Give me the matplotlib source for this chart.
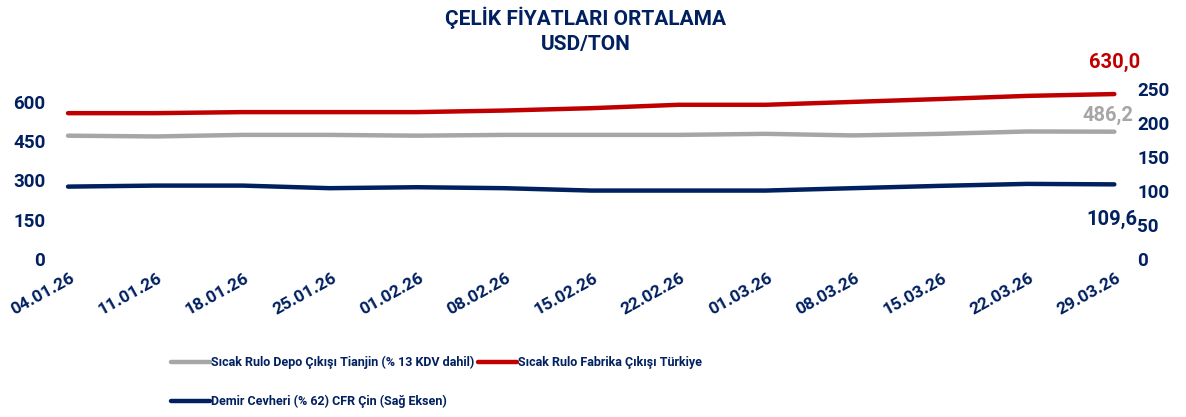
import matplotlib.pyplot as plt
import matplotlib.transforms as mtransforms

# Data
dates = ["04.01.26", "11.01.26", "18.01.26", "25.01.26", "01.02.26", "08.02.26", "15.02.26",
         "22.02.26", "01.03.26", "08.03.26", "15.03.26", "22.03.26", "29.03.26"]
tianjin = [471, 468, 474, 474, 471, 474, 474, 474, 478, 472, 478, 487, 486.2]
turkiye = [557, 557, 561, 561, 561, 567, 576, 589, 589, 600, 611, 623, 630.0]
demir = [106.3, 107.8, 107.8, 104, 105.4, 104, 100.5, 100.5, 100.5, 104, 107.4, 110.3, 109.6]

navy = "#002060"
red = "#C00000"
gray = "#A6A6A6"
font = ["Roboto", "DejaVu Sans"]
plt.rcParams["font.family"] = font
plt.rcParams["font.weight"] = "bold"

fig = plt.figure(figsize=(11.86, 4.17), dpi=100)
ax = fig.add_axes([0.0353, 0.379, 0.9153, 0.408])
ax2 = ax.twinx()

x = range(len(dates))
l1, = ax.plot(x, tianjin, color=gray, lw=3.2, solid_capstyle="round",
              label="Sıcak Rulo Depo Çıkışı Tianjin (% 13 KDV dahil)")
l2, = ax.plot(x, turkiye, color=red, lw=3.2, solid_capstyle="round",
              label="Sıcak Rulo Fabrika Çıkışı Türkiye")
l3, = ax2.plot(x, demir, color=navy, lw=3.2, solid_capstyle="round",
               label="Demir Cevheri (% 62) CFR Çin (Sağ Eksen)")

ax.set_ylim(0, 650)
ax.set_yticks([0, 150, 300, 450, 600])
ax2.set_ylim(0, 250)
ax2.set_yticks([0, 50, 100, 150, 200, 250])
ax.set_xlim(-0.3, 12.15)

for a in (ax, ax2):
    for s in a.spines.values():
        s.set_visible(False)
    a.tick_params(length=0, labelsize=13.5, labelcolor=navy)
ax.tick_params(axis="y", pad=-2.5)
ax2.tick_params(axis="y", pad=7)

ax.set_xticks(list(x))
ax.set_xticklabels(dates, rotation=29, ha="right", rotation_mode="anchor",
                   fontsize=12.5, color=navy)
ax.tick_params(axis="x", pad=8)
shift = mtransforms.ScaledTranslation(2 / 100, 0, fig.dpi_scale_trans)
for t in ax.get_xticklabels():
    t.set_transform(t.get_transform() + shift)

# end-of-series value labels
ax.annotate("630,0", (12, turkiye[-1]), xytext=(0, 23), textcoords="offset points",
            ha="center", va="center", color=red, fontsize=14.5)
ax.annotate("486,2", (12, tianjin[-1]), xytext=(-4.5, 12), textcoords="offset points",
            ha="center", va="center", color=gray, fontsize=14.5)
ax2.annotate("109,6", (12, demir[-1]), xytext=(-2, -25), textcoords="offset points",
             ha="center", va="center", color=navy, fontsize=14.5)

fig.text(0.494, 0.985, "ÇELİK FİYATLARI ORTALAMA\nUSD/TON", ha="center", va="top",
         color=navy, fontsize=15, linespacing=1.4)

leg = fig.legend(handles=[l1, l3, l2], ncol=2, loc="upper left",
                 bbox_to_anchor=(0.135, 0.174), bbox_transform=fig.transFigure,
                 frameon=False, handlelength=3.1, handletextpad=0.1, columnspacing=0.3,
                 labelspacing=2.1, prop={"weight": "bold", "size": 9, "family": font})
for t in leg.get_texts():
    t.set_color(navy)

fig.savefig("out.png", dpi=100)
